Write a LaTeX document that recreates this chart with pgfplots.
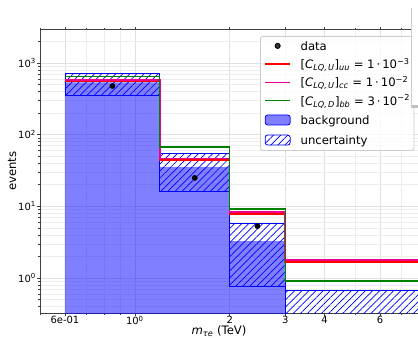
\documentclass[border=0pt]{standalone}
\usepackage{fontspec}
\setmainfont{DejaVu Sans}
\usepackage{pgfplots}
\pgfplotsset{compat=1.18}
\usetikzlibrary{patterns.meta}
\definecolor{mplgreen}{RGB}{0,128,0}
\tikzset{hatchu/.style={pattern={Lines[angle=45,distance=5bp,line width=0.7bp]},pattern color=blue}}
\begin{document}
\begin{tikzpicture}
\begin{axis}[
  scale only axis, width=410bp, height=283.5bp,
  xmode=log, ymode=log,
  xmin=0.5, xmax=10, ymin=0.325, ymax=2930,
  axis line style={draw=black!75, line width=0.9bp},
  xtick={0.6,1,2,3,4,6},
  xticklabels={6e-01,10\textsuperscript{0},2,3,4,6},
  minor xtick={0.5,0.7,0.8,0.9,5,7,8,9},
  ytick={1,10,100,1000},
  yticklabels={10\textsuperscript{0},10\textsuperscript{1},10\textsuperscript{2},10\textsuperscript{3}},
  minor ytick={0.4,0.5,0.6,0.7,0.8,0.9,2,3,4,5,6,7,8,9,20,30,40,50,60,70,80,90,200,300,400,500,600,700,800,900,2000},
  grid=both,
  major grid style={draw=black!12, line width=0.7bp},
  minor grid style={draw=black!7, line width=0.6bp},
  tick align=outside, major tick length=3bp, minor tick length=2bp,
  tick style={draw=black!75, line width=0.6bp},
  xticklabel style={font=\fontsize{10}{12}\selectfont, inner sep=0pt, anchor=north},
  yticklabel style={font=\fontsize{10}{12}\selectfont, inner sep=0pt, anchor=east, xshift=-1bp},
  xlabel={\textit{m}\textsubscript{\textit{τe}} (TeV)},
  label style={font=\fontsize{11.7}{14}\selectfont},
  xlabel style={at={(axis description cs:0.4366,0)}, anchor=base, yshift=-21.5bp, inner sep=0pt},
  legend style={at={(axis description cs:0.5366,0.9771)}, anchor=north west,
    draw=black!20, line width=0.8bp, rounded corners=2.5bp, fill=white, fill opacity=0.8, text opacity=1,
    font=\fontsize{11.7}{14}\selectfont, inner xsep=4bp, inner ysep=5bp,
    row sep=9.3bp, column sep=9.7bp,
    nodes={inner sep=0pt, text height=9bp, text depth=0bp, anchor=west}},
  legend cell align=left,
  clip mode=individual,
]
% legend
\addlegendimage{legend image code/.code={\fill[black] (12.5bp,0bp) circle (2.6bp);}}
\addlegendentry{data}
\addlegendimage{legend image code/.code={\draw[red, line width=1.5bp] (0bp,0bp) -- (25bp,0bp);}}
\addlegendentry{[\textit{C}\textsubscript{\textit{LQ,\,U}}]\textsubscript{\textit{uu}} = 1\,·\,10\textsuperscript{−3}}
\addlegendimage{legend image code/.code={\draw[magenta, line width=1.5bp] (0bp,0bp) -- (25bp,0bp);}}
\addlegendentry{[\textit{C}\textsubscript{\textit{LQ,\,U}}]\textsubscript{\textit{cc}} = 1\,·\,10\textsuperscript{−2}}
\addlegendimage{legend image code/.code={\draw[mplgreen, line width=1.2bp] (0bp,0bp) -- (25bp,0bp);}}
\addlegendentry{[\textit{C}\textsubscript{\textit{LQ,\,D}}]\textsubscript{\textit{bb}} = 3\,·\,10\textsuperscript{−2}}
\addlegendimage{legend image code/.code={\fill[blue, fill opacity=0.5] (0bp,-5bp) rectangle (25bp,5bp);}}
\addlegendentry{background}
\addlegendimage{legend image code/.code={\draw[blue, line width=0.8bp, hatchu] (0bp,-5bp) rectangle (25bp,5bp);}}
\addlegendentry{uncertainty}
% background
\addplot[forget plot, draw=none, fill=blue, fill opacity=0.5] coordinates {
 (0.6,0.01) (0.6,535) (1.2,535) (1.2,35.5) (2,35.5) (2,3.28) (3,3.28) (3,0.01)} -- cycle;
% uncertainty
\addplot[forget plot, draw=blue, line width=0.8bp, hatchu] coordinates {
 (0.6,358) (0.6,718) (1.2,718) (1.2,55) (2,55) (2,5.85) (3,5.85) (3,0.68) (10,0.68)
 (10,0.01) (3,0.01) (3,0.77) (2,0.77) (2,16) (1.2,16) (1.2,358)} -- cycle;
% signals
\addplot[forget plot, const plot, red, line width=1.5bp] coordinates {(0.6,548) (1.2,44) (2,7.8) (3,1.66) (10,1.66)};
\addplot[forget plot, const plot, magenta, line width=1.5bp] coordinates {(0.6,580) (1.2,46.3) (2,8.3) (3,1.78) (10,1.78)};
\addplot[forget plot, const plot, mplgreen, line width=1.2bp] coordinates {(0.6,644) (1.2,67.3) (2,9.2) (3,0.91) (10,0.91)};
% data
\addplot[forget plot, only marks, mark=*, mark size=2.6bp, black] coordinates {(0.849,477) (1.549,24.9) (2.449,5.3)};
\node[rotate=90, anchor=center, inner sep=0pt, font=\fontsize{11.7}{14}\selectfont] at (axis description cs:-0.0683,0.5) {events};
\end{axis}
\fill[white] (371bp,205bp) rectangle (380bp,320bp);
\draw[black!20, line width=0.8bp] (371.5bp,205bp) -- (371.5bp,305bp);
\fill[black!25] (372bp,205bp) rectangle (378bp,208bp);
\pgfresetboundingbox
\useasboundingbox (-40bp,-25bp) rectangle (378bp,313bp);
\end{tikzpicture}
\end{document}
